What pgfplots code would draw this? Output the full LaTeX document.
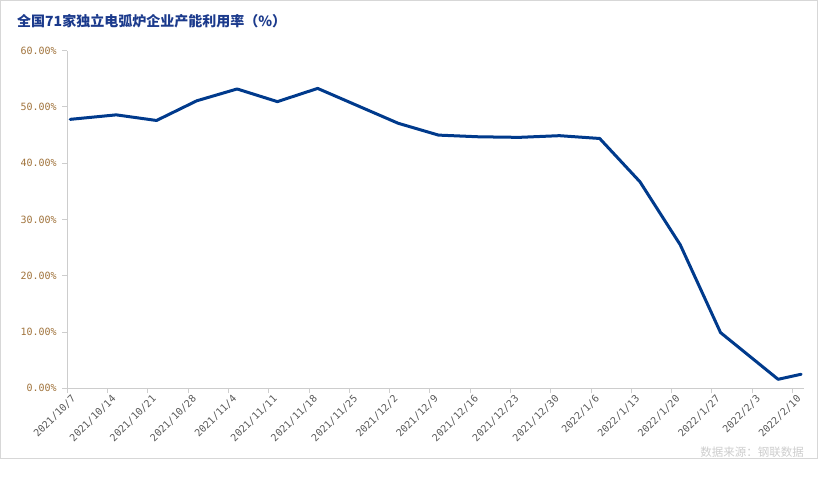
\documentclass[border=0pt]{standalone}
\usepackage{pgfplots}
\pgfplotsset{compat=1.18}
\usepackage{fontspec}
\setmainfont{Liberation Sans}
\newfontfamily\cjk{Noto Sans CJK SC}
\newfontfamily\monof{DejaVu Sans Mono}
\definecolor{linecol}{RGB}{0,58,140}
\definecolor{titlecol}{RGB}{27,58,140}
\definecolor{axisgray}{RGB}{205,205,205}
\definecolor{framegray}{RGB}{215,215,215}
\definecolor{labgray}{RGB}{89,89,89}
\definecolor{ylabcol}{RGB}{160,115,60}
\definecolor{srcgray}{RGB}{205,205,205}
\begin{document}
\begin{tikzpicture}
\path[use as bounding box] (0pt,0pt) rectangle (818pt,-482pt);
\draw[framegray, line width=1pt] (0.5pt,-0.5pt) rectangle (817pt,-458pt);
\node[anchor=west, text=titlecol, font=\cjk\bfseries\fontsize{14}{16}\selectfont, inner sep=0pt] at (17pt,-21pt) {全国71家独立电弧炉企业产能利用率（\%）};
\node[anchor=east, text=srcgray, font=\cjk\fontsize{11.5}{13}\selectfont, inner sep=0pt] at (804pt,-452pt) {数据来源：钢联数据};
\begin{axis}[
  at={(67.3pt,-388.3pt)}, anchor=south west,
  scale only axis, width=736.7pt, height=337.6pt,
  xmin=0, xmax=128, ymin=0, ymax=60,
  axis x line*=bottom, axis y line*=left,
  axis line style={draw=axisgray, line width=1pt},
  tick align=outside, major tick length=5pt,
  tick style={draw=axisgray, line width=1pt},
  xtick={0,7,...,126},
  xticklabels={2021/10/7,2021/10/14,2021/10/21,2021/10/28,2021/11/4,2021/11/11,2021/11/18,2021/11/25,2021/12/2,2021/12/9,2021/12/16,2021/12/23,2021/12/30,2022/1/6,2022/1/13,2022/1/20,2022/1/27,2022/2/3,2022/2/10},
  ytick={0,10,...,60},
  yticklabels={0.00\%,10.00\%,20.00\%,30.00\%,40.00\%,50.00\%,60.00\%},
  xticklabel style={rotate=45, anchor=north east, inner sep=1pt, xshift=3pt, yshift=-2pt, font=\monof\fontsize{10}{12}\selectfont, text=labgray},
  yticklabel style={xshift=-2pt, font=\monof\fontsize{10}{12}\selectfont, text=ylabcol},
]
\addplot[linecol, line width=3pt, line join=round, line cap=round] coordinates {
(0.5,47.8) (8.5,48.6) (15.5,47.6) (22.5,51.1) (29.5,53.2) (36.5,50.95) (43.5,53.3) (50.5,50.2) (57.5,47.1) (64.5,45.0) (71.5,44.7) (78.5,44.6) (85.5,44.9) (92.5,44.4) (99.5,36.7) (106.5,25.5) (113.5,9.9) (123.5,1.6) (127.5,2.5)
};
\end{axis}
\end{tikzpicture}
\end{document}
